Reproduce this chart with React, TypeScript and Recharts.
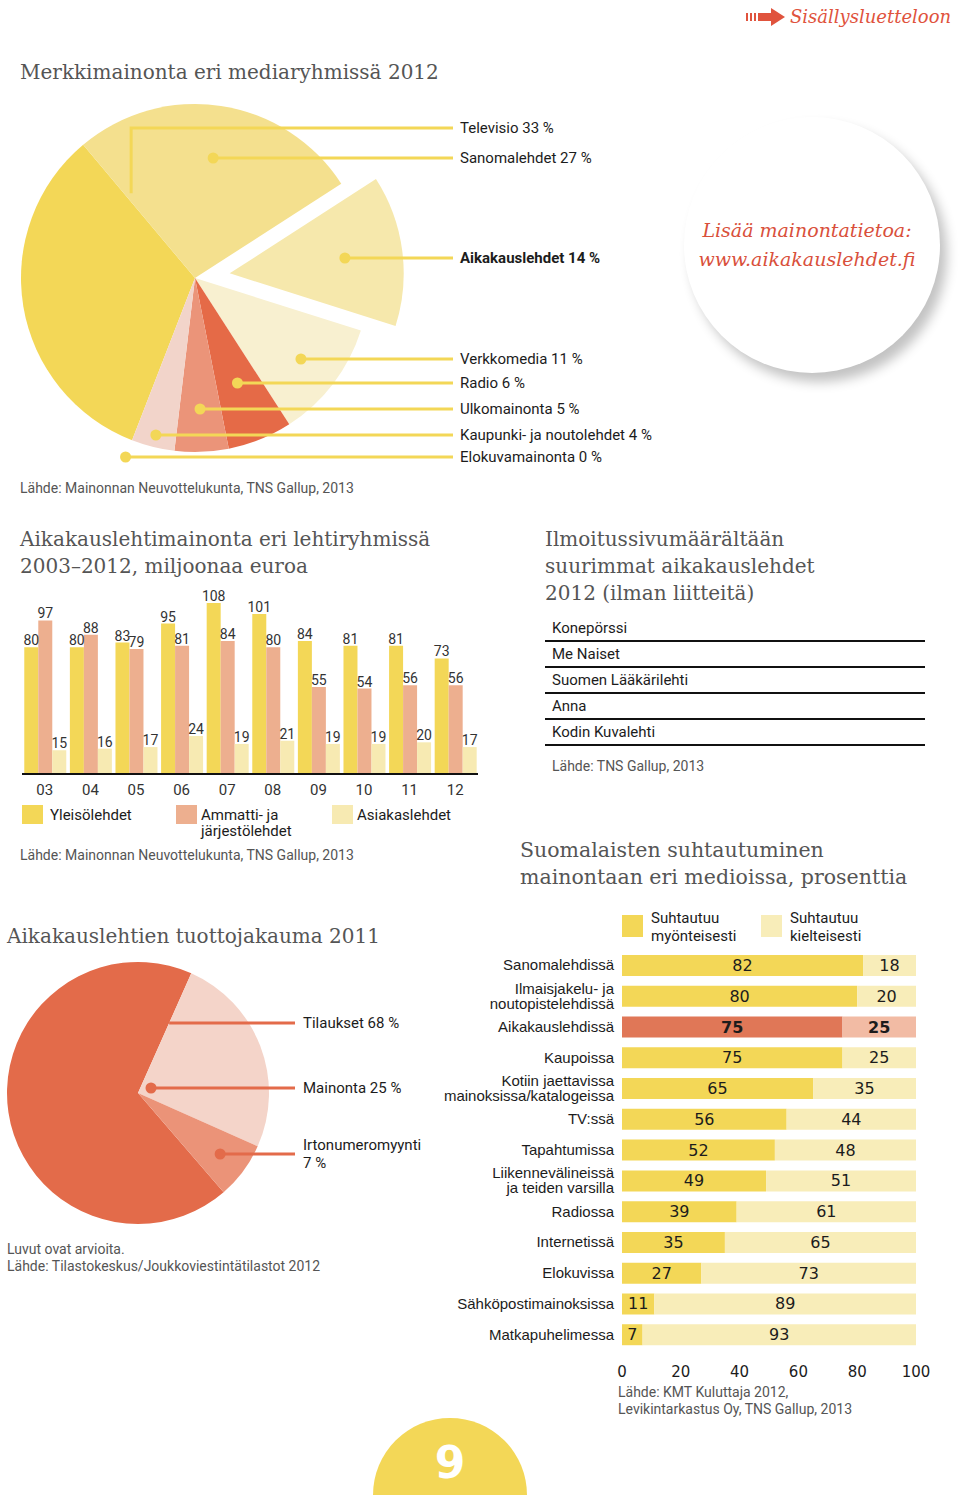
import React from "react";
import { Bar, BarChart, Cell, LabelList, Pie, PieChart, XAxis, YAxis } from "recharts";

// Merkkimainonta eri mediaryhmissä 2012
const mediaNames = [
  "Televisio",
  "Sanomalehdet",
  "Aikakauslehdet",
  "Verkkomedia",
  "Radio",
  "Ulkomainonta",
  "Kaupunki- ja noutolehdet",
  "Elokuvamainonta",
];
const mediaShares = [33, 27, 14, 11, 6, 5, 4, 0];

// Aikakauslehtimainonta 2003–2012, milj. euroa
const years = ["03", "04", "05", "06", "07", "08", "09", "10", "11", "12"];
const yleisolehdet = [80, 80, 83, 95, 108, 101, 84, 81, 81, 73];
const ammattilehdet = [97, 88, 79, 81, 84, 80, 55, 54, 56, 56];
const asiakaslehdet = [15, 16, 17, 24, 19, 21, 19, 19, 20, 17];

const topMagazines = ["Konepörssi", "Me Naiset", "Suomen Lääkärilehti", "Anna", "Kodin Kuvalehti"];

// Aikakauslehtien tuottojakauma 2011
const revenueNames = ["Tilaukset", "Mainonta", "Irtonumeromyynti"];
const revenueShares = [68, 25, 7];

// Suomalaisten suhtautuminen mainontaan
const attitudeMedia = [
  "Sanomalehdissä",
  "Ilmaisjakelu- ja\nnoutopistelehdissä",
  "Aikakauslehdissä",
  "Kaupoissa",
  "Kotiin jaettavissa\nmainoksissa/katalogeissa",
  "TV:ssä",
  "Tapahtumissa",
  "Liikennevälineissä\nja teiden varsilla",
  "Radiossa",
  "Internetissä",
  "Elokuvissa",
  "Sähköpostimainoksissa",
  "Matkapuhelimessa",
];
const positive = [82, 80, 75, 75, 65, 56, 52, 49, 39, 35, 27, 11, 7];
const negative = [18, 20, 25, 25, 35, 44, 48, 51, 61, 65, 73, 89, 93];
const percentTicks = [0, 20, 40, 60, 80, 100];
const highlighted = "Aikakauslehdissä";

const SANS = "Roboto, 'Liberation Sans', sans-serif";
const SERIF = "'DejaVu Serif', serif";
const NUM = "'DejaVu Sans', sans-serif";
const RED = "#D9503B";
const TITLE = "#555";

const mediaColors = ["#F3D757", "#F4E08E", "#F6E8AC", "#F8F0D0", "#E56A47", "#EB9479", "#F2D4CA", "#F2D4CA"];
const revenueColors = ["#E36B4A", "#F4D4C9", "#EB9378"];

const mediaData = mediaNames.map((name, i) => ({ name, value: mediaShares[i] }));
const revenueData = revenueNames.map((name, i) => ({ name, value: revenueShares[i] }));
const yearData = years.map((year, i) => ({
  year,
  yleiso: yleisolehdet[i],
  ammatti: ammattilehdet[i],
  asiakas: asiakaslehdet[i],
}));
const attitudeData = attitudeMedia.map((name, i) => ({ name, pos: positive[i], neg: negative[i] }));

type LeaderOpts = {
  ys: number[];
  modes: string[];
  lineEnd: number;
  textX: number;
  color: string;
  lines: (i: number) => string[];
  bold?: number;
  explode?: { index: number; dist: number };
};

// leader lines from the slices to the label column
const leaders = (o: LeaderOpts) => (p: any) => {
  const i = p.index;
  const rad = Math.PI / 180;
  let cx = p.cx;
  let cy = p.cy;
  if (o.explode && o.explode.index === i) {
    cx += o.explode.dist * Math.cos(p.midAngle * rad);
    cy -= o.explode.dist * Math.sin(p.midAngle * rad);
  }
  const y = o.ys[i];
  const dy = y - cy;
  const mode = o.modes[i];
  const pts: [number, number][] = [];
  let dot = false;
  if (mode === "ray") {
    const a = p.midAngle * rad;
    const t = -dy / Math.sin(a);
    pts.push([cx + t * Math.cos(a), y]);
    dot = true;
  } else if (mode === "edge") {
    const a = p.endAngle * rad;
    const t = -dy / Math.sin(a);
    pts.push([cx + t * Math.cos(a), y]);
  } else {
    const a = (p.endAngle - 3) * rad;
    const t = 0.61 * p.outerRadius;
    const x0 = cx + t * Math.cos(a);
    pts.push([x0, cy - t * Math.sin(a)], [x0, y]);
  }
  pts.push([o.lineEnd, y]);
  const lines = o.lines(i);
  const lh = 18;
  const y0 = y - ((lines.length - 1) * lh) / 2;
  return (
    <g key={`leader-${i}`}>
      <polyline points={pts.map((q) => q.join(",")).join(" ")} fill="none" stroke={o.color} strokeWidth={3} />
      {dot && <circle cx={pts[0][0]} cy={pts[0][1]} r={5.5} fill={o.color} />}
      <text
        x={o.textX}
        y={y0}
        fontFamily={SANS}
        fontSize={15}
        fill="#1c1c1c"
        fontWeight={o.bold === i ? 700 : 400}
        dominantBaseline="central"
      >
        {lines.map((l, k) => (
          <tspan key={k} x={o.textX} dy={k === 0 ? 0 : lh}>
            {l}
          </tspan>
        ))}
      </text>
    </g>
  );
};

const MediaTick = ({ x, y, payload }: any) => {
  const lines = String(payload.value).split("\n");
  return (
    <text x={x} y={y} textAnchor="end" fontFamily="'Liberation Sans', Arial, sans-serif" fontSize={15} fill="#1c1c1c">
      {lines.map((l, k) => (
        <tspan key={k} x={x} dy={k === 0 ? (lines.length === 1 ? 5 : -2.5) : 15}>
          {l}
        </tspan>
      ))}
    </text>
  );
};

const inBarLabel = (p: any) => {
  const row = attitudeData[p.index];
  const bold = row && row.name === highlighted;
  return (
    <text
      x={p.x + p.width / 2}
      y={p.y + p.height / 2}
      textAnchor="middle"
      dominantBaseline="central"
      fontFamily={NUM}
      fontSize={16}
      fontWeight={bold ? 700 : 400}
      fill="#1c1c1c"
    >
      {p.value}
    </text>
  );
};

// y is the centre of the first line
const T = ({ x, y, size = 15, lh, color = "#1c1c1c", font = SANS, style, children }: any) => {
  const lineH = lh ?? Math.round(size * 1.2);
  return (
    <div
      style={{
        position: "absolute",
        left: x,
        top: y - lineH / 2,
        fontSize: size,
        lineHeight: `${lineH}px`,
        color,
        fontFamily: font,
        whiteSpace: "pre",
        ...style,
      }}
    >
      {children}
    </div>
  );
};

const Swatch = ({ x, y, w = 21, h = 19, color }: any) => (
  <div style={{ position: "absolute", left: x, top: y, width: w, height: h, background: color }} />
);

export default function App() {
  const topPieTop = 100;
  const explodeIndex = mediaNames.indexOf("Aikakauslehdet");
  const total = mediaShares.reduce((a, b) => a + b, 0);
  const before = mediaShares.slice(0, explodeIndex).reduce((a, b) => a + b, 0);
  const topStart = 248.8;
  const explodeMid = topStart - (360 * (before + mediaShares[explodeIndex] / 2)) / total;
  const explodeDist = 35;
  const pieCx = 195;
  const pieCy = 278 - topPieTop;

  const bottomTop = 950;

  return (
    <div
      style={{
        position: "absolute",
        left: 0,
        top: 0,
        width: 960,
        height: 1495,
        overflow: "hidden",
        background: "#fff",
        fontFamily: SANS,
      }}
    >
      {/* header link */}
      <svg style={{ position: "absolute", left: 746, top: 8 }} width={42} height={18}>
        <rect x={0} y={5} width={2} height={8} fill="#E0533D" />
        <rect x={4} y={5} width={2} height={8} fill="#E0533D" />
        <rect x={8} y={5} width={2} height={8} fill="#E0533D" />
        <rect x={12} y={5} width={14} height={8} fill="#E0533D" />
        <polygon points="25,0 39,9 25,18" fill="#E0533D" />
      </svg>
      <T x={790} y={17} size={18} color="#E0533D" font={SERIF} style={{ fontStyle: "italic" }}>
        Sisällysluetteloon
      </T>

      <T x={20} y={72} size={20} lh={27} color={TITLE} font={SERIF}>
        Merkkimainonta eri mediaryhmissä 2012
      </T>

      {/* info bubble */}
      <div
        style={{
          position: "absolute",
          left: 684,
          top: 117,
          width: 256,
          height: 256,
          borderRadius: "50%",
          background: "#fff",
          boxShadow: "7px 9px 12px rgba(0,0,0,0.24)",
        }}
      />
      <div
        style={{
          position: "absolute",
          left: 684,
          top: 216,
          width: 246,
          textAlign: "center",
          fontFamily: SERIF,
          fontStyle: "italic",
          fontSize: 19,
          lineHeight: "29px",
          color: RED,
        }}
      >
        Lisää mainontatietoa:
        <br />
        www.aikakauslehdet.fi
      </div>

      <div style={{ position: "absolute", left: 0, top: topPieTop }}>
        <PieChart width={700} height={380} margin={{ top: 0, right: 0, bottom: 0, left: 0 }}>
          <Pie
            data={mediaData}
            dataKey="value"
            nameKey="name"
            cx={pieCx}
            cy={pieCy}
            outerRadius={174}
            startAngle={topStart}
            endAngle={topStart - 360}
            stroke="none"
            isAnimationActive={false}
            labelLine={false}
            label={leaders({
              ys: [128, 158, 258, 359, 383, 409, 435, 457].map((v) => v - topPieTop),
              modes: ["elbow", "ray", "ray", "ray", "ray", "ray", "ray", "ray"],
              lineEnd: 453,
              textX: 460,
              color: "#F3D757",
              bold: explodeIndex,
              explode: { index: explodeIndex, dist: explodeDist },
              lines: (i) => [`${mediaNames[i]} ${mediaShares[i]} %`],
            })}
          >
            {mediaData.map((d, i) => (
              <Cell key={d.name} fill={i === explodeIndex ? "none" : mediaColors[i]} />
            ))}
          </Pie>
          <Pie
            data={mediaData}
            dataKey="value"
            nameKey="name"
            cx={pieCx + explodeDist * Math.cos((explodeMid * Math.PI) / 180)}
            cy={pieCy - explodeDist * Math.sin((explodeMid * Math.PI) / 180)}
            outerRadius={174}
            startAngle={topStart}
            endAngle={topStart - 360}
            stroke="none"
            isAnimationActive={false}
          >
            {mediaData.map((d, i) => (
              <Cell key={d.name} fill={i === explodeIndex ? mediaColors[i] : "none"} />
            ))}
          </Pie>
        </PieChart>
      </div>

      <T x={20} y={488} size={14} color="#555">
        Lähde: Mainonnan Neuvottelukunta, TNS Gallup, 2013
      </T>

      {/* grouped bars */}
      <T x={20} y={539} size={20} lh={27} color={TITLE} font={SERIF}>
        {"Aikakauslehtimainonta eri lehtiryhmissä\n2003–2012, miljoonaa euroa"}
      </T>
      <div style={{ position: "absolute", left: 0, top: 570 }}>
        <BarChart
          width={490}
          height={234}
          data={yearData}
          margin={{ top: 14, right: 12, bottom: 0, left: 22 }}
          barCategoryGap="5%"
          barGap={0}
        >
          <XAxis
            dataKey="year"
            axisLine={{ stroke: "#111", strokeWidth: 2 }}
            tickLine={false}
            tickMargin={4}
            height={30}
            tick={{ fontSize: 15, fill: "#333", fontFamily: SANS }}
          />
          <YAxis hide domain={[0, 120]} />
          <Bar dataKey="yleiso" fill="#F3D757" isAnimationActive={false}>
            <LabelList dataKey="yleiso" position="top" offset={2} fontSize={14} fill="#333" fontFamily={SANS} />
          </Bar>
          <Bar dataKey="ammatti" fill="#EDAF8F" isAnimationActive={false}>
            <LabelList dataKey="ammatti" position="top" offset={2} fontSize={14} fill="#333" fontFamily={SANS} />
          </Bar>
          <Bar dataKey="asiakas" fill="#F7EAB2" isAnimationActive={false}>
            <LabelList dataKey="asiakas" position="top" offset={2} fontSize={14} fill="#333" fontFamily={SANS} />
          </Bar>
        </BarChart>
      </div>
      <Swatch x={22} y={805} color="#F3D757" />
      <T x={50} y={815}>Yleisölehdet</T>
      <Swatch x={176} y={805} color="#EDAF8F" />
      <T x={201} y={815} lh={16}>{"Ammatti- ja\njärjestölehdet"}</T>
      <Swatch x={332} y={805} color="#F7EAB2" />
      <T x={357} y={815}>Asiakaslehdet</T>
      <T x={20} y={855} size={14} color="#555">
        Lähde: Mainonnan Neuvottelukunta, TNS Gallup, 2013
      </T>

      {/* top magazines */}
      <T x={545} y={539} size={20} lh={27} color={TITLE} font={SERIF}>
        {"Ilmoitussivumäärältään\nsuurimmat aikakauslehdet\n2012 (ilman liitteitä)"}
      </T>
      {topMagazines.map((m, i) => (
        <React.Fragment key={m}>
          <T x={552} y={628 + i * 26}>{m}</T>
          <div
            style={{ position: "absolute", left: 545, top: 640 + i * 26, width: 380, height: 2, background: "#111" }}
          />
        </React.Fragment>
      ))}
      <T x={552} y={766} size={14} color="#555">
        Lähde: TNS Gallup, 2013
      </T>

      {/* revenue pie */}
      <T x={7} y={936} size={20} lh={27} color={TITLE} font={SERIF}>
        Aikakauslehtien tuottojakauma 2011
      </T>
      <div style={{ position: "absolute", left: 0, top: bottomTop }}>
        <PieChart width={440} height={290} margin={{ top: 0, right: 0, bottom: 0, left: 0 }}>
          <Pie
            data={revenueData}
            dataKey="value"
            nameKey="name"
            cx={138}
            cy={1093 - bottomTop}
            outerRadius={131}
            startAngle={310.8}
            endAngle={-49.2}
            stroke="none"
            isAnimationActive={false}
            labelLine={false}
            label={leaders({
              ys: [1023, 1088, 1154].map((v) => v - bottomTop),
              modes: ["edge", "ray", "ray"],
              lineEnd: 295,
              textX: 303,
              color: "#E36B4A",
              lines: (i) =>
                revenueNames[i].length > 12
                  ? [revenueNames[i], `${revenueShares[i]} %`]
                  : [`${revenueNames[i]} ${revenueShares[i]} %`],
            })}
          >
            {revenueData.map((d, i) => (
              <Cell key={d.name} fill={revenueColors[i]} />
            ))}
          </Pie>
        </PieChart>
      </div>
      <T x={7} y={1249} size={14} lh={17} color="#555">
        {"Luvut ovat arvioita.\nLähde: Tilastokeskus/Joukkoviestintätilastot 2012"}
      </T>

      {/* attitudes */}
      <T x={520} y={850} size={20.5} lh={27} color={TITLE} font={SERIF}>
        {"Suomalaisten suhtautuminen\nmainontaan eri medioissa, prosenttia"}
      </T>
      <Swatch x={622} y={915} w={21} h={22} color="#F3D757" />
      <T x={651} y={918} lh={18}>{"Suhtautuu\nmyönteisesti"}</T>
      <Swatch x={761} y={915} w={21} h={22} color="#F8EDB9" />
      <T x={790} y={918} lh={18}>{"Suhtautuu\nkielteisesti"}</T>
      <div style={{ position: "absolute", left: 430, top: 940 }}>
        <BarChart
          width={520}
          height={440}
          data={attitudeData}
          layout="vertical"
          margin={{ top: 10, right: 34, bottom: 0, left: 0 }}
          barSize={21}
        >
          <XAxis
            type="number"
            domain={[0, 100]}
            ticks={percentTicks}
            axisLine={false}
            tickLine={false}
            tickMargin={10}
            height={30}
            tick={{ fontSize: 15, fill: "#1c1c1c", fontFamily: NUM }}
          />
          <YAxis
            type="category"
            dataKey="name"
            width={192}
            axisLine={false}
            tickLine={false}
            interval={0}
            tick={<MediaTick />}
          />
          <Bar dataKey="pos" stackId="a" isAnimationActive={false}>
            {attitudeData.map((d) => (
              <Cell key={d.name} fill={d.name === highlighted ? "#E07757" : "#F3D757"} />
            ))}
            <LabelList dataKey="pos" content={inBarLabel} />
          </Bar>
          <Bar dataKey="neg" stackId="a" isAnimationActive={false}>
            {attitudeData.map((d) => (
              <Cell key={d.name} fill={d.name === highlighted ? "#F2BBA4" : "#F8EDB9"} />
            ))}
            <LabelList dataKey="neg" content={inBarLabel} />
          </Bar>
        </BarChart>
      </div>
      <T x={618} y={1392} size={14} lh={17} color="#555">
        {"Lähde: KMT Kuluttaja 2012,\nLevikintarkastus Oy, TNS Gallup, 2013"}
      </T>

      {/* page number */}
      <div
        style={{
          position: "absolute",
          left: 373,
          top: 1418,
          width: 154,
          height: 154,
          borderRadius: "50%",
          background: "#F3D757",
        }}
      />
      <div
        style={{
          position: "absolute",
          left: 373,
          top: 1435,
          width: 154,
          textAlign: "center",
          color: "#fff",
          fontFamily: "'DejaVu Sans', sans-serif",
          fontWeight: 700,
          fontSize: 44,
          lineHeight: "56px",
        }}
      >
        9
      </div>
    </div>
  );
}
